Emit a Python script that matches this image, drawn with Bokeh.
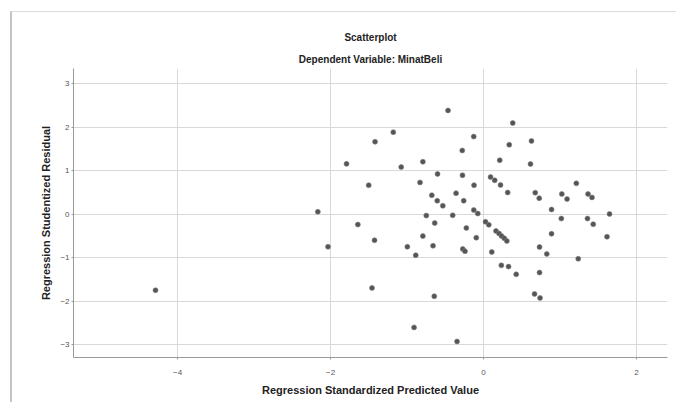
from bokeh.plotting import figure
from bokeh.models import FixedTicker, Title, ColumnDataSource
from bokeh.embed import file_html
from bokeh.resources import INLINE

# Regression standardized predicted value (x) and studentized residual (y)
pred = [-4.288, -2.166, -2.033, -1.791, -1.643, -1.501, -1.458, -1.418, -1.425, -1.180,
        -1.076, -0.996, -0.886, -0.908, -0.830, -0.793, -0.793, -0.748, -0.676, -0.605,
        -0.532, -0.601, -0.638, -0.660, -0.644, -0.464, -0.403, -0.359, -0.346, -0.278,
        -0.275, -0.259, -0.225, -0.271, -0.242, -0.128, -0.124, -0.127, -0.075, -0.095,
        0.026, 0.069, 0.092, 0.146, 0.222, 0.108, 0.163, 0.203, 0.235, 0.271,
        0.305, 0.212, 0.316, 0.336, 0.382, 0.233, 0.327, 0.427, 0.614, 0.627,
        0.676, 0.728, 0.732, 0.827, 0.732, 0.667, 0.739, 0.889, 0.889, 1.024,
        1.092, 1.017, 1.213, 1.238, 1.366, 1.418, 1.359, 1.434, 1.647, 1.614]
resid = [-1.744, 0.058, -0.746, 1.159, -0.236, 0.670, -1.691, 1.667, -0.596, 1.887,
         1.085, -0.746, -0.940, -2.598, 0.732, 1.208, -0.501, -0.030, 0.439, 0.312,
         0.196, 0.928, -0.201, -0.723, -1.882, 2.386, -0.023, 0.485, -2.921, 1.467,
         0.896, 0.312, -0.312, -0.797, -0.848, 1.785, 0.670, 0.097, 0.018, -0.536,
         -0.173, -0.242, 0.855, 0.781, 0.674, -0.866, -0.381, -0.439, -0.497, -0.550,
         -0.612, 1.243, 0.501, 1.598, 2.097, -1.173, -1.201, -1.379, 1.155, 1.686,
         0.497, 0.370, -0.751, -0.912, -1.339, -1.829, -1.921, 0.111, -0.446, 0.467,
         0.351, -0.097, 0.711, -1.021, 0.467, 0.388, -0.097, -0.226, 0.007, -0.515]

x_ticks = [-4, -2, 0, 2]
y_ticks = [-3, -2, -1, 0, 1, 2, 3]

title_text = "Scatterplot"
subtitle_text = "Dependent Variable: MinatBeli"
x_label = "Regression Standardized Predicted Value"
y_label = "Regression Studentized Residual"

FONT = "Liberation Sans"

p = figure(width=666, height=391, output_backend="svg", toolbar_location=None,
           x_range=(-5.36, 2.405), y_range=(-3.29, 3.35),
           min_border_left=61, min_border_right=11, min_border_top=56, min_border_bottom=46)

sub = Title(text=subtitle_text, align="center", text_font=FONT, text_font_size="10px",
            text_font_style="bold", text_color="#222222", standoff=8)
p.add_layout(sub, "above")
main = Title(text=title_text, align="center", text_font=FONT, text_font_size="10px",
             text_font_style="bold", text_color="#222222", standoff=9)
p.add_layout(main, "above")

src = ColumnDataSource(dict(x=pred, y=resid))
p.scatter("x", "y", source=src, size=5, fill_color="#555555", line_color="#808080",
          line_width=0.6)

p.background_fill_color = "white"
p.border_fill_color = "white"
p.outline_line_color = None

for ax in (p.xaxis[0], p.yaxis[0]):
    ax.axis_line_color = "#9a9a9a"
    ax.major_tick_line_color = "#9a9a9a"
    ax.minor_tick_line_color = None
    ax.major_tick_in = 0
    ax.major_tick_out = 2
    ax.major_label_text_font = FONT
    ax.major_label_text_font_size = "8px"
    ax.major_label_text_color = "#555555"
    ax.axis_label_text_font = FONT
    ax.axis_label_text_font_size = "11px"
    ax.axis_label_text_font_style = "bold"
    ax.axis_label_text_color = "#222222"

p.xaxis[0].ticker = FixedTicker(ticks=x_ticks)
p.yaxis[0].ticker = FixedTicker(ticks=y_ticks)
p.xaxis[0].axis_label = x_label
p.yaxis[0].axis_label = y_label
p.xaxis[0].major_label_standoff = 10
p.xaxis[0].axis_label_standoff = 6
p.yaxis[0].major_label_standoff = 2
p.yaxis[0].axis_label_standoff = 5

p.xgrid.grid_line_color = "#d9d9d9"
p.ygrid.grid_line_color = "#d9d9d9"
p.xgrid.ticker = FixedTicker(ticks=x_ticks)
p.ygrid.ticker = FixedTicker(ticks=y_ticks)

p.styles = {"margin-left": "10px", "margin-top": "11px",
            "border-left": "2px solid #c4c4c4", "border-top": "1px solid #dcdcdc"}

open("out.html", "w").write(file_html(p, INLINE))
